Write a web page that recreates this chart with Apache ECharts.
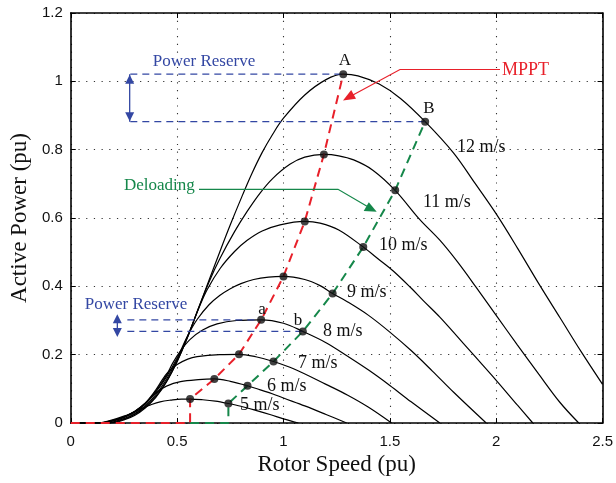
<!DOCTYPE html>
<html>
<head>
<meta charset="utf-8">
<script src="https://cdn.jsdelivr.net/npm/echarts@6/dist/echarts.min.js"></script>
<style>
html,body{margin:0;padding:0;background:#fff;}
#main{width:616px;height:483px;}
</style>
</head>
<body>
<div id="main"></div>
<script>
// ---------- data ----------
const xTicks = [0, 0.5, 1, 1.5, 2, 2.5];
const yTicks = [0, 0.2, 0.4, 0.6, 0.8, 1, 1.2];
const windLabels = ['5 m/s','6 m/s','7 m/s','8 m/s','9 m/s','10 m/s','11 m/s','12 m/s'];

const curve5 = [[0,0],[0.12,0],[0.2,0.01],[0.25,0.02],[0.3,0.033],[0.344,0.045],[0.375,0.053],[0.42,0.062],[0.47,0.067],[0.52,0.07],[0.561,0.07],[0.62,0.068],[0.68,0.064],[0.741,0.057],[0.8,0.049],[0.87,0.037],[0.94,0.024],[1.0,0.012],[1.07,0]];
const curve6 = [[0,0],[0.13,0],[0.2,0.008],[0.25,0.018],[0.3,0.034],[0.35,0.058],[0.38,0.076],[0.406,0.091],[0.45,0.108],[0.516,0.121],[0.6,0.127],[0.675,0.129],[0.75,0.122],[0.831,0.109],[0.891,0.097],[0.95,0.085],[1.0,0.073],[1.1,0.05],[1.2,0.025],[1.297,0]];
const curve7 = [[0,0],[0.14,0],[0.2,0.008],[0.25,0.018],[0.3,0.034],[0.35,0.058],[0.4,0.097],[0.43,0.126],[0.453,0.146],[0.5,0.171],[0.55,0.187],[0.594,0.194],[0.7,0.2],[0.791,0.201],[0.87,0.194],[0.953,0.18],[1.05,0.158],[1.2,0.113],[1.3,0.082],[1.4,0.046],[1.508,0]];
const curve8 = [[0,0],[0.15,0],[0.2,0.007],[0.25,0.017],[0.3,0.033],[0.35,0.057],[0.4,0.093],[0.45,0.14],[0.48,0.176],[0.516,0.211],[0.56,0.244],[0.62,0.272],[0.688,0.29],[0.78,0.3],[0.895,0.302],[1.0,0.292],[1.091,0.268],[1.2,0.235],[1.3,0.196],[1.4,0.155],[1.5,0.11],[1.6,0.062],[1.735,0]];
const curve9 = [[0,0],[0.16,0],[0.2,0.006],[0.25,0.016],[0.3,0.031],[0.35,0.055],[0.4,0.09],[0.45,0.135],[0.5,0.19],[0.55,0.256],[0.594,0.303],[0.65,0.346],[0.7,0.373],[0.75,0.393],[0.8,0.408],[0.86,0.42],[0.93,0.427],[1.0,0.429],[1.1,0.42],[1.172,0.402],[1.231,0.379],[1.3,0.355],[1.4,0.315],[1.5,0.266],[1.6,0.212],[1.7,0.152],[1.8,0.09],[1.953,0]];
const curve10 = [[0,0],[0.17,0],[0.25,0.013],[0.3,0.027],[0.35,0.05],[0.4,0.083],[0.45,0.128],[0.5,0.185],[0.55,0.255],[0.6,0.333],[0.641,0.39],[0.703,0.453],[0.77,0.502],[0.828,0.534],[0.9,0.562],[0.984,0.58],[1.1,0.59],[1.172,0.585],[1.26,0.565],[1.375,0.515],[1.45,0.478],[1.516,0.445],[1.6,0.395],[1.656,0.359],[1.735,0.31],[1.8,0.265],[1.893,0.2],[2.0,0.125],[2.1,0.052],[2.172,0]];
const curve11 = [[0,0],[0.18,0],[0.25,0.011],[0.3,0.025],[0.35,0.047],[0.4,0.078],[0.45,0.122],[0.5,0.18],[0.55,0.252],[0.6,0.335],[0.65,0.413],[0.7,0.48],[0.77,0.56],[0.83,0.62],[0.89,0.673],[0.95,0.716],[1.03,0.757],[1.1,0.778],[1.19,0.786],[1.26,0.782],[1.33,0.77],[1.42,0.74],[1.525,0.681],[1.64,0.596],[1.735,0.535],[1.82,0.47],[1.906,0.397],[2.0,0.315],[2.1,0.228],[2.2,0.143],[2.3,0.06],[2.388,0]];
const curve12 = [[0,0],[0.19,0],[0.25,0.009],[0.3,0.022],[0.35,0.044],[0.4,0.075],[0.45,0.12],[0.5,0.18],[0.55,0.253],[0.6,0.335],[0.65,0.418],[0.7,0.5],[0.75,0.58],[0.8,0.656],[0.85,0.728],[0.9,0.792],[0.95,0.846],[1.0,0.892],[1.1,0.96],[1.2,1.005],[1.281,1.021],[1.35,1.016],[1.45,0.992],[1.55,0.95],[1.666,0.882],[1.8,0.79],[1.9,0.702],[2.0,0.612],[2.1,0.512],[2.2,0.408],[2.3,0.308],[2.4,0.208],[2.5,0.113]];

const mpptPoints = [[0.561,0.07],[0.675,0.129],[0.791,0.201],[0.895,0.302],[1.0,0.429],[1.10,0.590],[1.19,0.786],[1.281,1.021]];
const deloadPoints = [[0.741,0.057],[0.831,0.109],[0.953,0.180],[1.091,0.268],[1.231,0.379],[1.375,0.515],[1.525,0.681],[1.666,0.882]];
const mpptStartX = 0;          // red dashed runs along the axis from here
const deloadStartX = 0.561;    // green dashed runs along the axis from here

// power reserve guide lines (x start, to point)
const reserveHighStart = 0.28;
const reserveLowStart = 0.266;
const reserveHighArrowX = 0.277;
const reserveLowArrowX = 0.219;

// ---------- build ----------
const curves = [curve5, curve6, curve7, curve8, curve9, curve10, curve11, curve12];
const redColor = '#e8202a', greenColor = '#15874a', blueColor = '#3347a3';
const serif = '"Liberation Serif","DejaVu Serif",serif';
const sans = '"Liberation Sans",Arial,sans-serif';

const series = [];
curves.forEach((c, i) => {
  series.push({
    type: 'line', name: windLabels[i], data: c, symbol: 'none',
    smooth: 0.35,
    lineStyle: {color: '#000', width: 1.2}, z: 2, silent: true
  });
});

const A = mpptPoints[mpptPoints.length - 1], B = deloadPoints[deloadPoints.length - 1];
const a = mpptPoints[3], b = deloadPoints[3];
const blueDash = {color: blueColor, width: 1.2, type: [7, 5]};
[[reserveHighStart, A], [reserveHighStart, B], [reserveLowStart, a], [reserveLowStart, b]].forEach(([x0, p]) => {
  series.push({type: 'line', data: [[x0, p[1]], p], symbol: 'none', lineStyle: blueDash, z: 3, silent: true});
});
function arrowSeries(x, yTop, yBot, offTop, offBot) {
  return {
    type: 'line', z: 4, silent: true,
    lineStyle: {color: blueColor, width: 1.3},
    itemStyle: {color: blueColor},
    symbol: 'triangle', symbolSize: [9, 9],
    data: [
      {value: [x, yTop], symbolRotate: 0, symbolOffset: [0, offTop]},
      {value: [x, yBot], symbolRotate: 180, symbolOffset: [0, offBot]}
    ]
  };
}
series.push(arrowSeries(reserveHighArrowX, A[1], B[1], 5, -5));
series.push(arrowSeries(reserveLowArrowX, a[1], b[1], -1, 1));

series.push({
  type: 'line', data: [[deloadStartX, 0], [deloadPoints[0][0], 0]].concat(deloadPoints), symbol: 'none',
  lineStyle: {color: greenColor, width: 2, type: [9, 6]}, z: 5, silent: true
});
series.push({
  type: 'line', data: [[mpptStartX, 0], [mpptPoints[0][0], 0]].concat(mpptPoints), symbol: 'none',
  lineStyle: {color: redColor, width: 2, type: [9, 6]}, z: 6, silent: true
});
series.push({
  type: 'scatter', data: mpptPoints.concat(deloadPoints), symbolSize: 8,
  itemStyle: {color: '#111'}, z: 8, silent: true
});

const txt = (x, y, s, color, size, align) => ({
  type: 'text', x: x, y: y, z: 20, silent: true,
  style: {text: s, fill: color || '#111', font: (size || 17) + 'px ' + serif, textAlign: align || 'left', textVerticalAlign: 'middle'}
});
const graphics = [
  txt(457, 147, windLabels[7], '#111', 18),
  txt(423, 202, windLabels[6], '#111', 18),
  txt(379, 245, windLabels[5], '#111', 18),
  txt(347, 292, windLabels[4], '#111', 18),
  txt(323, 331, windLabels[3], '#111', 18),
  txt(298, 363, windLabels[2], '#111', 18),
  txt(267, 386, windLabels[1], '#111', 18),
  txt(240, 405, windLabels[0], '#111', 18),
  txt(345, 61, 'A', '#111', 17, 'center'),
  txt(429, 109, 'B', '#111', 17, 'center'),
  txt(262, 310, 'a', '#111', 17, 'center'),
  txt(298, 321, 'b', '#111', 17, 'center'),
  txt(204, 62, 'Power Reserve', blueColor, 17, 'center'),
  txt(136, 305, 'Power Reserve', blueColor, 17, 'center'),
  txt(502, 70, 'MPPT', redColor, 18, 'left'),
  txt(124, 186, 'Deloading', greenColor, 17, 'left'),
  {type: 'polyline', z: 19, silent: true, shape: {points: [[500, 69.5], [400, 69.5], [352, 95.5]]}, style: {stroke: redColor, lineWidth: 1.2, fill: null}},
  {type: 'polygon', z: 19, silent: true, shape: {points: [[343, 100.5], [356, 98.8], [351.2, 89.9]]}, style: {fill: redColor}},
  {type: 'polyline', z: 19, silent: true, shape: {points: [[199, 189.3], [338, 189.3], [367, 206.2]]}, style: {stroke: greenColor, lineWidth: 1.2, fill: null}},
  {type: 'polygon', z: 19, silent: true, shape: {points: [[376.7, 211.7], [363.7, 210.9], [368.8, 202.2]]}, style: {fill: greenColor}}
];

const chart = echarts.init(document.getElementById('main'), null, {renderer: 'canvas'});
const splitDotted = {show: true, lineStyle: {color: '#333', width: 1.1, type: [1.2, 6.5]}};
chart.setOption({
  animation: false,
  backgroundColor: '#fff',
  grid: {left: 70, right: 13, top: 13, bottom: 60, show: false},
  xAxis: [{
    type: 'value', min: xTicks[0], max: xTicks[xTicks.length - 1], interval: 0.5,
    name: 'Rotor Speed (pu)', nameLocation: 'middle', nameGap: 30,
    nameTextStyle: {fontFamily: serif, fontSize: 23, color: '#111'},
    axisLine: {show: true, onZero: false, lineStyle: {color: '#000', width: 1.6}},
    axisTick: {show: true, inside: true, length: 5, lineStyle: {color: '#000'}},
    axisLabel: {fontFamily: sans, fontSize: 15, color: '#111', margin: 11},
    splitLine: splitDotted
  }, {
    type: 'value', position: 'top', min: xTicks[0], max: xTicks[xTicks.length - 1], interval: 0.5,
    axisLine: {show: true, onZero: false, lineStyle: {color: '#000', width: 1.6}},
    axisTick: {show: true, inside: true, length: 5, lineStyle: {color: '#000'}},
    axisLabel: {show: false}, splitLine: {show: false}
  }],
  yAxis: [{
    type: 'value', min: yTicks[0], max: yTicks[yTicks.length - 1], interval: 0.2,
    name: 'Active Power (pu)', nameLocation: 'middle', nameGap: 36,
    nameTextStyle: {fontFamily: serif, fontSize: 23, color: '#111'},
    axisLine: {show: true, onZero: false, lineStyle: {color: '#000', width: 1.6}},
    axisTick: {show: true, inside: true, length: 5, lineStyle: {color: '#000'}},
    axisLabel: {fontFamily: sans, fontSize: 15, color: '#111', margin: 8},
    splitLine: splitDotted
  }, {
    type: 'value', position: 'right', min: yTicks[0], max: yTicks[yTicks.length - 1], interval: 0.2,
    axisLine: {show: true, onZero: false, lineStyle: {color: '#000', width: 1.6}},
    axisTick: {show: true, inside: true, length: 5, lineStyle: {color: '#000'}},
    axisLabel: {show: false}, splitLine: {show: false}
  }],
  series: series,
  graphic: graphics
});
</script>
</body>
</html>
